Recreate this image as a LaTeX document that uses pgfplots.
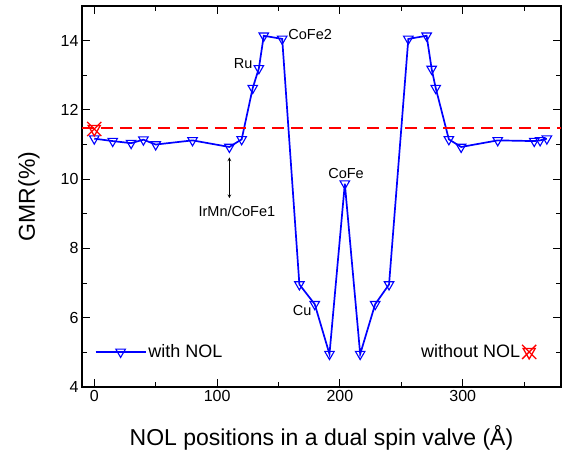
\documentclass[border=0pt]{standalone}
\usepackage{pgfplots}
\pgfplotsset{compat=1.18}
\usepackage{fontspec}
\setmainfont{Liberation Sans}
\pgfdeclareplotmark{xtri}{%
  \pgfuseplotmark{x}%
  \pgftransformscale{0.7}%
  \pgftransformrotate{180}%
  \pgfuseplotmark{triangle}%
}
\begin{document}
\begin{tikzpicture}
\useasboundingbox (-82pt,-70pt) rectangle (484pt,387pt);
\begin{axis}[
  at={(0,0)}, anchor=south west,
  scale only axis, width=479pt, height=381pt,
  xmin=-10, xmax=380, ymin=4, ymax=15,
  xtick={0,100,200,300}, minor xtick={50,150,250,350},
  ytick={4,6,...,14}, minor ytick={5,7,...,13},
  tick align=inside, major tick length=8pt, minor tick length=5pt,
  axis line style={line width=1.3pt},
  every tick/.style={line width=1pt, black},
  tick label style={font=\fontsize{16}{19}\selectfont},
  /pgf/number format/assume math mode=true,
  xlabel={NOL positions in a dual spin valve (Å)},
  ylabel={GMR(\%)},
  label style={font=\fontsize{23}{27}\selectfont},
  xlabel style={at={(axis description cs:0.5,-0.134)}, anchor=center},
  ylabel style={at={(axis description cs:-0.1106,0.5)}, anchor=center},
  legend style={draw=none, fill=none, at={(axis description cs:0.02,0.092)}, anchor=west, font=\fontsize{18}{21}\selectfont},
  legend image code/.code={\draw[mark repeat=2,mark phase=2,#1] plot coordinates {(0pt,0pt)(25pt,0pt)(50pt,0pt)};},
  clip=false,
]
\addplot[blue, line width=1.7pt, mark=triangle, mark size=5.5pt,
  mark options={rotate=180, solid, fill=white, line width=1.1pt}] coordinates {
(0,11.17)(15,11.10)(30,11.04)(40,11.14)(50,11.0)(80,11.12)(110,10.93)(120,11.15)
(129,12.63)(134,13.2)(138,14.14)(153,14.05)(167,6.96)(179.5,6.39)(191.5,4.95)
(204,9.87)(216.5,4.95)(228.7,6.39)(240,6.96)(255.7,14.05)(270.6,14.14)(274.7,13.18)
(278,12.63)(288.7,11.15)(298.7,10.93)(328.5,11.12)(358.2,11.10)(363,11.12)(368.5,11.17)
};
\addlegendentry{with NOL}
\node[font=\fontsize{14.5}{17}\selectfont] at (axis cs:121.2,13.35) {Ru};
\node[font=\fontsize{14.5}{17}\selectfont] at (axis cs:175.8,14.19) {CoFe2};
\node[font=\fontsize{14.5}{17}\selectfont] at (axis cs:205,10.16) {CoFe};
\node[font=\fontsize{14.5}{17}\selectfont] at (axis cs:169.3,6.2) {Cu};
\node[font=\fontsize{14.5}{17}\selectfont] at (axis cs:116.1,9.07) {IrMn/CoFe1};
\draw[<->, >=stealth, line width=0.7pt] (axis cs:110,10.63) -- (axis cs:110,9.45);
\end{axis}
\begin{axis}[
  at={(0,0)}, anchor=south west,
  scale only axis, width=479pt, height=381pt,
  xmin=-10, xmax=380, ymin=4, ymax=15,
  hide axis, clip=false,
  legend style={draw=none, fill=none, at={(axis description cs:0.955,0.092)}, anchor=east, font=\fontsize{18}{21}\selectfont},
  legend plot pos=right,
]
\addplot[red, line width=1.7pt, dash pattern=on 12pt off 7pt, forget plot] coordinates {(-10,11.47)(380,11.47)};
\addplot[red, only marks, mark=xtri, mark size=10pt, line width=1.3pt] coordinates {(0,11.45)};
\addlegendentry{without NOL}
\end{axis}
\end{tikzpicture}
\end{document}
